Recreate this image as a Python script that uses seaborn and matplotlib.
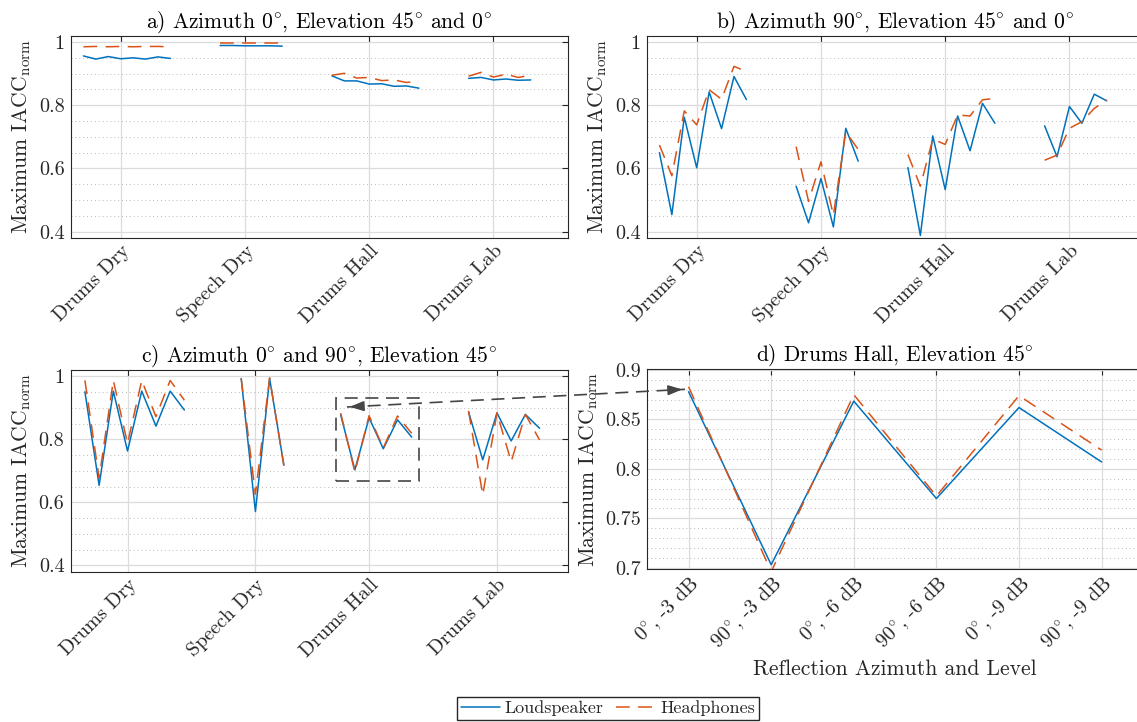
import numpy as np
import pandas as pd
import matplotlib
matplotlib.use("Agg")
import matplotlib.pyplot as plt
import seaborn as sns
from matplotlib.lines import Line2D
from matplotlib.patches import Rectangle, FancyArrowPatch
from matplotlib.ticker import MultipleLocator, FuncFormatter, FixedLocator, NullLocator

# ---------------------------------------------------------------- data
groups = ["Drums Dry", "Speech Dry", "Drums Hall", "Drums Lab"]
systems = ["Loudspeaker", "Headphones"]

# a) Azimuth 0°, Elevation 45° and 0°
a_ls_drums_dry = [0.956, 0.946, 0.954, 0.947, 0.950, 0.946, 0.953, 0.948]
a_hp_drums_dry = [0.985, 0.986, 0.985, 0.986, 0.985, 0.986, 0.986, 0.985]
a_ls_speech_dry = [0.989, 0.989, 0.988, 0.988, 0.988, 0.987]
a_hp_speech_dry = [0.997, 0.997, 0.997, 0.997, 0.997, 0.997]
a_ls_drums_hall = [0.893, 0.877, 0.877, 0.867, 0.868, 0.860, 0.861, 0.854]
a_hp_drums_hall = [0.895, 0.901, 0.886, 0.888, 0.878, 0.880, 0.872, 0.876]
a_ls_drums_lab = [0.885, 0.888, 0.880, 0.883, 0.879, 0.880]
a_hp_drums_lab = [0.892, 0.904, 0.889, 0.898, 0.888, 0.895]

# b) Azimuth 90°, Elevation 45° and 0°
b_ls_drums_dry = [0.650, 0.454, 0.762, 0.602, 0.842, 0.726, 0.891, 0.818]
b_hp_drums_dry = [0.674, 0.577, 0.782, 0.738, 0.849, 0.819, 0.923, 0.907]
b_ls_speech_dry = [0.544, 0.428, 0.568, 0.415, 0.727, 0.623]
b_hp_speech_dry = [0.669, 0.496, 0.621, 0.452, 0.716, 0.660]
b_ls_drums_hall = [0.603, 0.388, 0.703, 0.533, 0.766, 0.656, 0.806, 0.743]
b_hp_drums_hall = [0.644, 0.544, 0.693, 0.676, 0.769, 0.766, 0.817, 0.822]
b_ls_drums_lab = [0.735, 0.637, 0.796, 0.743, 0.835, 0.814]
b_hp_drums_lab = [0.626, 0.642, 0.727, 0.748, 0.790, 0.817]

# c) Azimuth 0° and 90°, Elevation 45°
c_ls_drums_dry = [0.951, 0.654, 0.953, 0.763, 0.953, 0.842, 0.953, 0.893]
c_hp_drums_dry = [0.987, 0.677, 0.987, 0.787, 0.987, 0.872, 0.987, 0.924]
c_ls_speech_dry = [0.993, 0.571, 0.993, 0.719]
c_hp_speech_dry = [0.993, 0.626, 0.995, 0.716]
c_ls_drums_hall = [0.878, 0.703, 0.8685, 0.770, 0.862, 0.807]
c_hp_drums_hall = [0.883, 0.696, 0.875, 0.7725, 0.874, 0.819]
c_ls_drums_lab = [0.887, 0.735, 0.884, 0.795, 0.879, 0.835]
c_hp_drums_lab = [0.890, 0.624, 0.884, 0.729, 0.879, 0.798]

# d) Drums Hall, Elevation 45° (detail of the Drums Hall block in c)
d_conditions = ["$0^{\\circ}$, -3 dB", "$90^{\\circ}$, -3 dB", "$0^{\\circ}$, -6 dB",
                "$90^{\\circ}$, -6 dB", "$0^{\\circ}$, -9 dB", "$90^{\\circ}$, -9 dB"]
d_ls = c_ls_drums_hall
d_hp = c_hp_drums_hall

BLUE = "#0072BD"
ORANGE = "#D95319"
DARK = "#262626"
GAP = 3

TICK_FS = 14.5
LABEL_FS = 15.5
TITLE_FS = 15.5

# ---------------------------------------------------------------- style
sns.set_theme(style="white")
plt.rcParams.update({
    "font.family": ["cmr10"],
    "mathtext.fontset": "cm",
    "axes.formatter.use_mathtext": True,
    "axes.edgecolor": DARK,
    "axes.linewidth": 0.8,
    "xtick.color": DARK,
    "ytick.color": DARK,
    "text.color": DARK,
    "axes.labelcolor": DARK,
})

fig = plt.figure(figsize=(11.37, 7.22), dpi=100)
W, H = 1137.0, 722.0


def add_axes_px(left, top, width, height):
    return fig.add_axes([left / W, 1 - (top + height) / H, width / W, height / H])


ax_a = add_axes_px(71, 35.7, 497, 202.3)
ax_b = add_axes_px(647, 35.7, 497, 202.3)
ax_c = add_axes_px(70.7, 370, 497.3, 201.7)
ax_d = add_axes_px(647.3, 369.3, 495.6, 200.0)


def panel_frame(ls_lists, hp_lists):
    """Lay the groups out along one numeric x axis with a gap between them."""
    rows, ticks = [], []
    x = 1
    for name, ls, hp in zip(groups, ls_lists, hp_lists):
        n = len(ls)
        xs = np.arange(x, x + n)
        ticks.append(x + (n - 1) // 2)
        for sysname, vals in (("Loudspeaker", ls), ("Headphones", hp)):
            for xi, v in zip(xs, vals):
                rows.append((name, sysname, xi, v))
        x += n + GAP
    df = pd.DataFrame(rows, columns=["group", "system", "x", "iacc"])
    return df, ticks


DASH = (9.0, 5.5)
LW = 1.1


def draw_lines(ax, df, units=None):
    sns.lineplot(data=df, x="x", y="iacc", hue="system", style="system",
                 hue_order=systems, style_order=systems,
                 units=units, estimator=None,
                 palette={"Loudspeaker": BLUE, "Headphones": ORANGE},
                 dashes={"Loudspeaker": "", "Headphones": DASH},
                 lw=LW, ax=ax, legend=False)


def style_axes(ax, ylim, major, minor):
    ax.set_ylim(*ylim)
    ax.yaxis.set_major_locator(MultipleLocator(major))
    ax.yaxis.set_minor_locator(MultipleLocator(minor))
    ax.xaxis.set_minor_locator(NullLocator())
    ax.yaxis.set_major_formatter(FuncFormatter(lambda v, p: f"{v:g}"))
    ax.grid(True, which="major", color="#dcdcdc", lw=0.9, ls="-")
    ax.yaxis.grid(True, which="minor", color="#b8b8b8", lw=0.7, ls=(0, (1, 3)))
    ax.set_axisbelow(True)
    ax.tick_params(which="major", direction="in", length=4, width=0.8,
                   top=True, right=True, labelsize=TICK_FS, colors=DARK)
    ax.tick_params(which="minor", length=0)
    ax.tick_params(axis="y", pad=4.5)
    for s in ax.spines.values():
        s.set_color(DARK)
        s.set_linewidth(0.8)
    ax.set_ylabel("Maximum IACC$_\\mathrm{norm}$", fontsize=LABEL_FS, labelpad=4)
    ax.set_xlabel("")


def category_axis(ax, ticks, labels, xlim):
    ax.set_xlim(*xlim)
    ax.xaxis.set_major_locator(FixedLocator(ticks))
    ax.set_xticklabels(labels, rotation=45, ha="right", va="top",
                       rotation_mode="anchor", fontsize=TICK_FS)
    ax.tick_params(axis="x", pad=3)


# ---------------------------------------------------------------- panels a-c
panels = [
    (ax_a, "a) Azimuth $0^{\\circ}$, Elevation $45^{\\circ}$ and $0^{\\circ}$",
     [a_ls_drums_dry, a_ls_speech_dry, a_ls_drums_hall, a_ls_drums_lab],
     [a_hp_drums_dry, a_hp_speech_dry, a_hp_drums_hall, a_hp_drums_lab], (0, 40)),
    (ax_b, "b) Azimuth $90^{\\circ}$, Elevation $45^{\\circ}$ and $0^{\\circ}$",
     [b_ls_drums_dry, b_ls_speech_dry, b_ls_drums_hall, b_ls_drums_lab],
     [b_hp_drums_dry, b_hp_speech_dry, b_hp_drums_hall, b_hp_drums_lab], (0, 40)),
    (ax_c, "c) Azimuth $0^{\\circ}$ and $90^{\\circ}$, Elevation $45^{\\circ}$",
     [c_ls_drums_dry, c_ls_speech_dry, c_ls_drums_hall, c_ls_drums_lab],
     [c_hp_drums_dry, c_hp_speech_dry, c_hp_drums_hall, c_hp_drums_lab], (0, 35)),
]

for ax, title, ls_lists, hp_lists, xlim in panels:
    df, ticks = panel_frame(ls_lists, hp_lists)
    draw_lines(ax, df, units="group")
    style_axes(ax, (0.38, 1.02), 0.2, 0.05)
    category_axis(ax, ticks, groups, xlim)
    ax.set_title(title, fontsize=TITLE_FS, pad=6, color="black")

# ---------------------------------------------------------------- panel d
df_d = pd.DataFrame({
    "x": np.tile(np.arange(1, len(d_conditions) + 1), 2),
    "iacc": d_ls + d_hp,
    "system": ["Loudspeaker"] * len(d_ls) + ["Headphones"] * len(d_hp),
})
draw_lines(ax_d, df_d)
style_axes(ax_d, (0.6984, 0.9007), 0.05, 0.01)
category_axis(ax_d, list(range(1, len(d_conditions) + 1)), d_conditions, (0.5, 6.5))
ax_d.set_title("d) Drums Hall, Elevation $45^{\\circ}$", fontsize=TITLE_FS, pad=6,
               color="black")
ax_d.set_xlabel("Reflection Azimuth and Level", fontsize=LABEL_FS, labelpad=4)

# ---------------------------------------------------------------- zoom marker
GREY = "#454545"
box = Rectangle((18.65, 0.668), 5.88, 0.264, fill=False, edgecolor=GREY,
                lw=1.2, ls=(0, (7.8, 4.6)), clip_on=False, zorder=5)
ax_c.add_patch(box)

p_left = np.array([347.0, 407.0])
p_right = np.array([685.0, 389.3])


def fig_frac(p):
    return (p[0] / W, 1 - p[1] / H)


fig.add_artist(Line2D([fig_frac(p_left)[0], fig_frac(p_right)[0]],
                      [fig_frac(p_left)[1], fig_frac(p_right)[1]],
                      transform=fig.transFigure, color=GREY, lw=1.2,
                      ls=(0, (7.8, 4.6))))
direction = (p_right - p_left) / np.linalg.norm(p_right - p_left)
for tip, inward in ((p_left, direction), (p_right, -direction)):
    tail = tip + inward * 12
    fig.add_artist(FancyArrowPatch(fig_frac(tail), fig_frac(tip),
                                   transform=fig.transFigure,
                                   arrowstyle="-|>,head_length=0.7,head_width=0.25",
                                   mutation_scale=12, color=GREY, lw=1.2))

# ---------------------------------------------------------------- legend
handles = [Line2D([], [], color=BLUE, lw=LW),
           Line2D([], [], color=ORANGE, lw=LW, ls=(0, DASH))]
fig.legend(handles, systems, loc="center", bbox_to_anchor=(0.5347, 0.0187),
           ncol=2, fontsize=13, frameon=True, fancybox=False, edgecolor=DARK,
           framealpha=1, handlelength=2.2, handletextpad=0.25, columnspacing=0.7,
           borderpad=0.2, borderaxespad=0)

fig.savefig("out.png", dpi=100)
